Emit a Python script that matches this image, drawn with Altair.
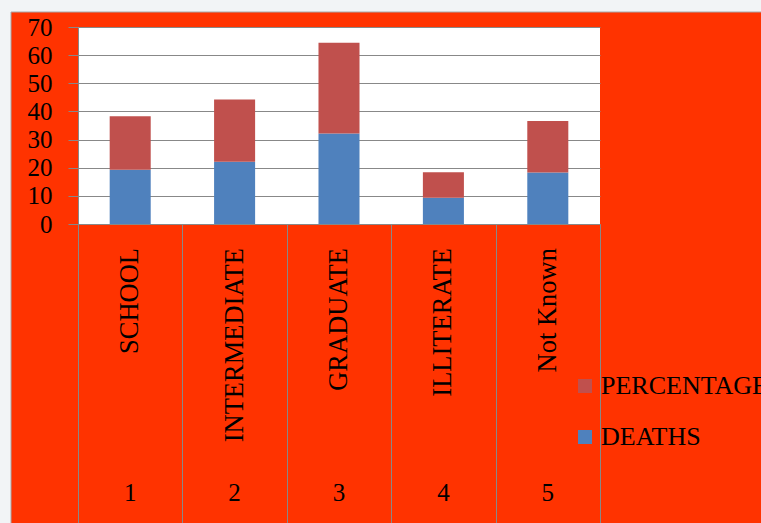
import altair as alt
import pandas as pd

categories = ["SCHOOL", "INTERMEDIATE", "GRADUATE", "ILLITERATE", "Not Known"]
numbers = ["1", "2", "3", "4", "5"]
deaths = [19.3, 22.1, 32.2, 9.3, 18.3]
percentage = [19.0, 22.1, 32.2, 9.1, 18.3]
series = ["PERCENTAGE", "DEATHS"]
colors = ["#C0504D", "#4F81BD"]
y_ticks = [0, 10, 20, 30, 40, 50, 60, 70]

rows = []
for c, d, p in zip(categories, deaths, percentage):
    rows.append({"cat": c, "series": "DEATHS", "value": d, "ord": 0})
    rows.append({"cat": c, "series": "PERCENTAGE", "value": p, "ord": 1})
bars_df = pd.DataFrame(rows)
lab_df = pd.DataFrame({"cat": categories, "num": numbers})
one = pd.DataFrame({"a": [0]})

FONT = "Liberation Serif"
GREY = "#888888"

xscale = alt.Scale(domain=categories, paddingInner=0, paddingOuter=0)
xaxis = alt.Axis(title=None, labels=False, tickBand="extent", tickSize=299,
                 tickColor=GREY, domainColor=GREY, grid=False)
x_enc = alt.X("cat:N", scale=xscale, axis=xaxis)

bars = alt.Chart(bars_df).mark_bar(width=alt.RelativeBandSize(0.393)).encode(
    x=x_enc,
    y=alt.Y("value:Q", stack="zero",
            scale=alt.Scale(domain=[0, 70], nice=False),
            axis=alt.Axis(values=y_ticks, title=None, tickSize=10, tickColor=GREY,
                          labelPadding=16, labelFont=FONT, labelFontSize=25,
                          labelColor="black", labelOverlap=False, domainColor=GREY,
                          gridColor=GREY, grid=True, format="d")),
    color=alt.Color("series:N", scale=alt.Scale(domain=series, range=colors),
                    legend=alt.Legend(orient="none", legendX=494, legendY=346,
                                      title=None, symbolType="square", symbolSize=196,
                                      symbolStrokeWidth=0, labelFont=FONT,
                                      labelFontSize=26, labelColor="black",
                                      labelLimit=400, rowPadding=25, labelOffset=3,
                                      padding=0)),
    order=alt.Order("ord:Q"),
)

names = alt.Chart(lab_df).mark_text(angle=270, align="right", baseline="middle",
                                     font=FONT, fontSize=26.5, color="black").encode(
    x=x_enc, y=alt.value(221), text="cat:N")

nums = alt.Chart(lab_df).mark_text(align="center", baseline="middle",
                                    font=FONT, fontSize=25, color="black").encode(
    x=x_enc, y=alt.value(466), text="num:N")

strip_left = alt.Chart(one).mark_rect(color="#F2F4F6").encode(
    x=alt.value(-78), x2=alt.value(-67), y=alt.value(-27), y2=alt.value(496))
strip_top = alt.Chart(one).mark_rect(color="#F2F4F6").encode(
    x=alt.value(-78), x2=alt.value(683), y=alt.value(-27), y2=alt.value(-15))
edge_v = alt.Chart(one).mark_rule(color="#A8A8A8", strokeWidth=1).encode(
    x=alt.value(-67), y=alt.value(-15), y2=alt.value(496))
edge_h = alt.Chart(one).mark_rule(color="#A8A8A8", strokeWidth=1).encode(
    x=alt.value(-67), x2=alt.value(683), y=alt.value(-15))

chart = alt.layer(strip_left, strip_top, edge_v, edge_h, bars, names, nums).properties(
    width=522, height=197,
    padding={"left": 78, "top": 27, "right": 161, "bottom": 299},
    autosize=alt.AutoSizeParams(type="none"),
    background="#FF3300",
).configure_view(fill="white", strokeWidth=0)

chart.save("out.html", embed_options={"renderer": "svg", "actions": False})
